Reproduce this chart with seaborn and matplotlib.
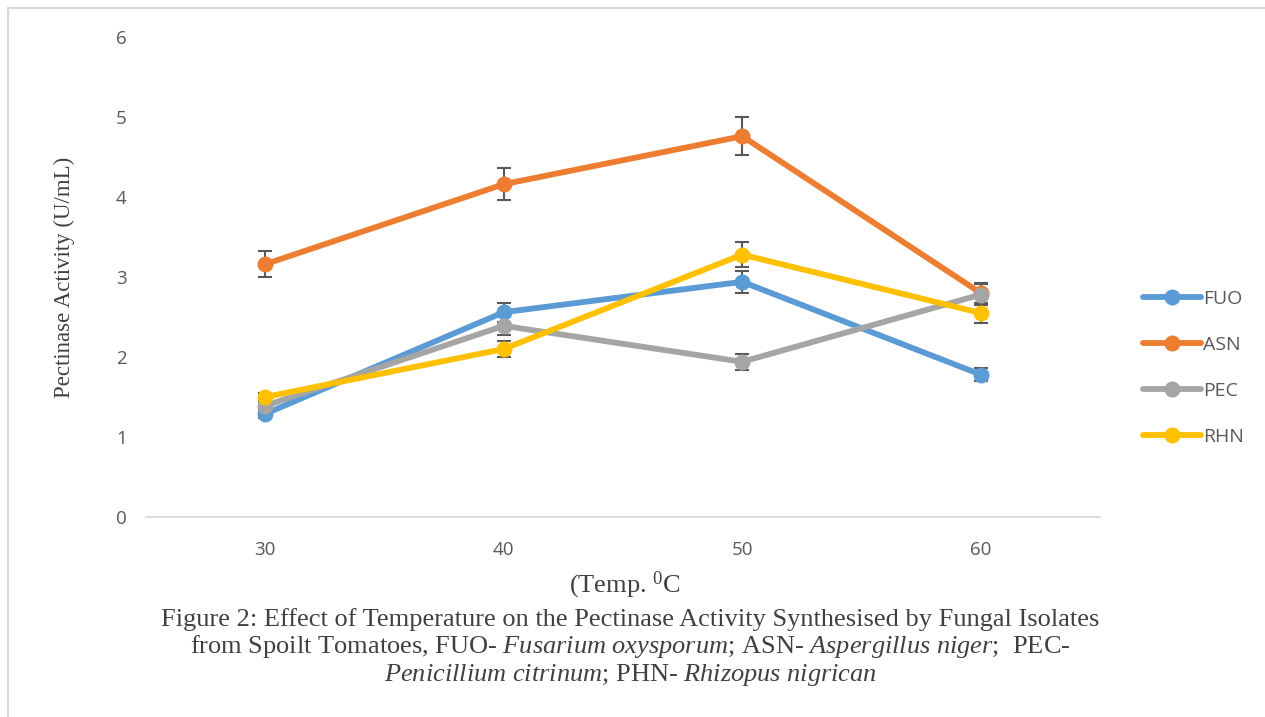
import matplotlib
matplotlib.use("Agg")
import matplotlib.pyplot as plt
import seaborn as sns
import pandas as pd
from matplotlib.patches import Rectangle
from matplotlib.lines import Line2D

temps = [30, 40, 50, 60]
series = ["FUO", "ASN", "PEC", "RHN"]
fuo = [1.29, 2.56, 2.94, 1.78]
asn = [3.16, 4.16, 4.76, 2.80]
pec = [1.39, 2.39, 1.94, 2.78]
rhn = [1.50, 2.10, 3.28, 2.55]
fuo_err = [0.05, 0.12, 0.14, 0.08]
asn_err = [0.16, 0.20, 0.24, 0.12]
pec_err = [0.05, 0.12, 0.10, 0.13]
rhn_err = [0.05, 0.10, 0.16, 0.12]
colors = ["#5B9BD5", "#ED7D31", "#A5A5A5", "#FFC000"]
yticks = [0, 1, 2, 3, 4, 5, 6]

sns.set_theme(style="white")
plt.rcParams["font.family"] = ["Open Sans", "DejaVu Sans"]
plt.rcParams["mathtext.fontset"] = "custom"
plt.rcParams["mathtext.rm"] = "Liberation Serif"
plt.rcParams["mathtext.it"] = "Liberation Serif:italic"

values = [fuo, asn, pec, rhn]
errs = [fuo_err, asn_err, pec_err, rhn_err]
df = pd.DataFrame({
    "Temp": temps * 4,
    "Activity": fuo + asn + pec + rhn,
    "Isolate": sum([[s] * 4 for s in series], []),
})

fig = plt.figure(figsize=(12.65, 7.17), dpi=100)
ax = fig.add_axes([146 / 1265, 1 - 517 / 717, (1100 - 146) / 1265, (517 - 37) / 717])

for i, (s, v, e, c) in enumerate(zip(series, values, errs, colors)):
    ax.errorbar(temps, v, yerr=e, fmt="none", ecolor="#595959", elinewidth=1.5,
                capsize=5, capthick=1.5, zorder=2 + i * 2)

sns.lineplot(data=df, x="Temp", y="Activity", hue="Isolate", hue_order=series,
             palette=colors, linewidth=4.2, marker="o", markersize=11.5,
             markeredgewidth=0, ax=ax, legend=False, zorder=3)
for i, line in enumerate(ax.get_lines()):
    line.set_zorder(3 + i * 2)

ax.set_xlim(25, 65)
ax.set_ylim(0, 6)
ax.set_xticks(temps)
ax.set_yticks(yticks)
ax.set_xticklabels([str(t) for t in temps])
ax.set_yticklabels([str(t) for t in yticks])
ax.tick_params(axis="both", length=0, labelsize=13.5, labelcolor="#595959")
ax.tick_params(axis="y", pad=14)
ax.tick_params(axis="x", pad=17)
for sp in ["top", "right", "left"]:
    ax.spines[sp].set_visible(False)
ax.spines["bottom"].set_color("#D9D9D9")
ax.spines["bottom"].set_linewidth(1.3)
ax.set_xlabel("")
ax.set_ylabel("Pectinase Activity (U/mL)", fontfamily="Liberation Serif",
              fontsize=16.5, color="#404040", labelpad=0)
ax.yaxis.set_label_coords(-0.074, 0.5)

handles = [Line2D([0], [0], color=c, lw=4.2, marker="o", markersize=11.5, markeredgewidth=0)
           for c in colors]
leg = fig.legend(handles, series, loc="center left", bbox_to_anchor=(1125 / 1265, 1 - 368 / 717),
                 frameon=False, fontsize=14, labelspacing=1.45, handlelength=3.0,
                 handletextpad=0.1)
for t in leg.get_texts():
    t.set_color("#595959")

fig.text(625 / 1265, 1 - 585 / 717, r"(Temp. $^{0}$C", ha="center", va="center",
         fontfamily="Liberation Serif", fontsize=19, color="#404040")

caption = ("Figure 2: Effect of Temperature on the Pectinase Activity Synthesised by Fungal Isolates\n"
           r"from Spoilt Tomatoes, FUO- $\it{Fusarium\ oxysporum}$; ASN- $\it{Aspergillus\ niger}$;  PEC-" "\n"
           r"$\it{Penicillium\ citrinum}$; PHN- $\it{Rhizopus\ nigrican}$")
fig.text(630 / 1265, 1 - 648 / 717, caption, ha="center", va="center",
         fontfamily="Liberation Serif", fontsize=19, color="#404040", linespacing=1.1)

fig.patches.append(Rectangle((8 / 1265, -0.05), 1.1, 1.05 - 8 / 717, transform=fig.transFigure,
                             fill=False, edgecolor="#D9D9D9", linewidth=1.5))

fig.savefig("out.png", dpi=100, facecolor="white")
